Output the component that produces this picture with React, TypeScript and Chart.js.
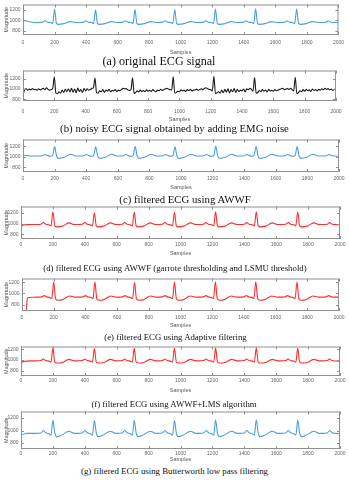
import React, { useEffect, useRef, useMemo } from "react";
import { Chart, registerables } from "chart.js";

Chart.register(...registerables);

// ---------------- data ----------------
const X_TICKS = [0, 200, 400, 600, 800, 1000, 1200, 1400, 1600, 1800, 2000];
const Y_TICKS = [800, 1000, 1200];

// sample positions of the traced points (shared by the smooth signals)
const BEAT_X = [
  0, 5, 25, 35, 60,
  90, 125, 140, 155, 175, 188, 200, 212, 225, 260, 300, 335,
  350, 385, 400, 415, 435, 448, 460, 472, 485, 520, 560, 595,
  600, 635, 650, 665, 685, 698, 710, 722, 735, 770, 810, 845,
  852, 887, 902, 917, 937, 950, 962, 974, 987, 1022, 1062, 1097,
  1110, 1145, 1160, 1175, 1195, 1208, 1220, 1232, 1245, 1280, 1320, 1355,
  1365, 1400, 1415, 1430, 1450, 1463, 1475, 1487, 1500, 1535, 1575, 1610,
  1625, 1660, 1675, 1690, 1710, 1723, 1735, 1747, 1760, 1795, 1835, 1870,
  1895, 1920, 1935, 1950, 1975, 2000,
];

// (a) original ECG
const ORIGINAL = [
  985, 988, 985, 975, 960,
  955, 962, 990, 962, 955, 935, 1205, 940, 920, 935, 972, 955,
  955, 962, 990, 962, 955, 935, 1195, 940, 920, 935, 972, 955,
  955, 962, 990, 962, 955, 935, 1200, 940, 920, 935, 972, 955,
  955, 962, 990, 962, 955, 935, 1200, 940, 920, 935, 972, 955,
  955, 962, 990, 962, 955, 935, 1210, 940, 920, 935, 972, 955,
  955, 962, 990, 962, 955, 935, 1215, 940, 920, 935, 972, 955,
  955, 962, 990, 962, 955, 935, 1210, 940, 920, 935, 972, 955,
  955, 960, 990, 965, 955, 958,
];

// (b) noisy ECG (EMG noise added), sampled every 10 samples
const NOISY_X = [
  0, 10, 20, 30, 40, 50, 60, 70, 80, 90,
  100, 110, 120, 130, 140, 150, 160, 170, 180, 190,
  200, 210, 220, 230, 240, 250, 260, 270, 280, 290,
  300, 310, 320, 330, 340, 350, 360, 370, 380, 390,
  400, 410, 420, 430, 440, 450, 460, 470, 480, 490,
  500, 510, 520, 530, 540, 550, 560, 570, 580, 590,
  600, 610, 620, 630, 640, 650, 660, 670, 680, 690,
  700, 710, 720, 730, 740, 750, 760, 770, 780, 790,
  800, 810, 820, 830, 840, 850, 860, 870, 880, 890,
  900, 910, 920, 930, 940, 950, 960, 970, 980, 990,
  1000, 1010, 1020, 1030, 1040, 1050, 1060, 1070, 1080, 1090,
  1100, 1110, 1120, 1130, 1140, 1150, 1160, 1170, 1180, 1190,
  1200, 1210, 1220, 1230, 1240, 1250, 1260, 1270, 1280, 1290,
  1300, 1310, 1320, 1330, 1340, 1350, 1360, 1370, 1380, 1390,
  1400, 1410, 1420, 1430, 1440, 1450, 1460, 1470, 1480, 1490,
  1500, 1510, 1520, 1530, 1540, 1550, 1560, 1570, 1580, 1590,
  1600, 1610, 1620, 1630, 1640, 1650, 1660, 1670, 1680, 1690,
  1700, 1710, 1720, 1730, 1740, 1750, 1760, 1770, 1780, 1790,
  1800, 1810, 1820, 1830, 1840, 1850, 1860, 1870, 1880, 1890,
  1900, 1910, 1920, 1930, 1940, 1950, 1960, 1970, 1980, 1990,
  2000,
];
const NOISY = [
  860, 985, 1000, 975, 995, 980, 1005, 985, 990, 975,
  1000, 980, 995, 1010, 985, 1020, 990, 975, 985, 1010,
  1235, 920, 905, 945, 915, 975, 930, 990, 950, 1000,
  940, 1010, 935, 995, 925, 1015, 950, 985, 930, 1005,
  960, 1000, 975, 985, 1010, 1020, 1210, 925, 915, 960,
  940, 985, 930, 975, 955, 990, 945, 970, 960, 985,
  950, 975, 965, 990, 1010, 1000, 1005, 980, 970, 985,
  1215, 910, 930, 960, 940, 975, 950, 965, 945, 980,
  955, 970, 950, 985, 960, 945, 975, 965, 990, 970,
  985, 1000, 1010, 995, 985, 975, 1235, 915, 930, 955,
  945, 980, 960, 975, 950, 985, 965, 990, 960, 975,
  980, 995, 970, 990, 1000, 985, 1010, 1020, 1000, 990,
  985, 960, 1245, 905, 925, 945, 915, 975, 925, 990,
  935, 1000, 920, 985, 945, 1005, 930, 990, 950, 975,
  960, 995, 940, 1000, 985, 1010, 990, 955, 1220, 915,
  930, 965, 945, 985, 955, 975, 940, 990, 960, 970,
  955, 985, 965, 975, 990, 1000, 1010, 985, 995, 1005,
  990, 1010, 985, 960, 1225, 905, 925, 960, 945, 985,
  955, 990, 965, 980, 950, 995, 970, 985, 960, 990,
  975, 1000, 985, 1010, 990, 1005, 980, 995, 970, 990,
  985,
];

// (c) filtered ECG using AWWF
const AWWF = [
  1030, 1030, 1025, 1020, 1015,
  1015, 1020, 1045, 1025, 1010, 1030, 1195, 1020, 970, 990, 1050, 1015,
  1015, 1020, 1045, 1025, 1010, 1030, 1190, 1020, 970, 990, 1050, 1015,
  1015, 1020, 1045, 1025, 1010, 1030, 1195, 1020, 970, 990, 1050, 1015,
  1015, 1020, 1045, 1025, 1010, 1030, 1190, 1020, 970, 990, 1050, 1015,
  1015, 1020, 1045, 1025, 1010, 1030, 1200, 1020, 970, 990, 1050, 1015,
  1015, 1020, 1045, 1025, 1010, 1030, 1195, 1020, 970, 990, 1050, 1015,
  1015, 1020, 1045, 1025, 1010, 1030, 1195, 1020, 970, 990, 1050, 1015,
  1015, 1020, 1045, 1025, 1015, 1010,
];

// (d) filtered ECG using AWWF (garrote thresholding and LSMU threshold)
const AWWF_GARROTE = [
  705, 965, 978, 982, 985,
  985, 990, 1020, 990, 980, 960, 1220, 960, 940, 955, 1015, 985,
  985, 990, 1020, 990, 980, 960, 1205, 960, 940, 955, 1015, 985,
  985, 990, 1020, 990, 980, 960, 1215, 960, 940, 955, 1015, 985,
  985, 990, 1020, 990, 980, 960, 1210, 960, 940, 955, 1015, 985,
  985, 990, 1020, 990, 980, 960, 1220, 960, 940, 955, 1015, 985,
  985, 990, 1020, 990, 980, 960, 1220, 960, 940, 955, 1015, 985,
  985, 990, 1020, 990, 980, 960, 1215, 960, 940, 955, 1015, 985,
  985, 990, 1020, 990, 982, 980,
];

// (e) filtered ECG using Adaptive filtering
const ADAPTIVE = [
  698, 698, 698, 925, 932,
  935, 940, 962, 940, 930, 910, 1200, 905, 880, 895, 955, 935,
  935, 940, 962, 940, 930, 910, 1200, 905, 880, 895, 955, 935,
  935, 940, 962, 940, 930, 910, 1195, 905, 880, 895, 955, 935,
  935, 940, 962, 940, 930, 910, 1200, 905, 880, 895, 955, 935,
  935, 940, 962, 940, 930, 910, 1205, 905, 880, 895, 955, 935,
  935, 940, 962, 940, 930, 910, 1205, 905, 880, 895, 955, 935,
  935, 940, 962, 940, 930, 910, 1200, 905, 880, 895, 955, 935,
  935, 940, 962, 940, 935, 935,
];

// (f) filtered ECG using AWWF+LMS algorithm
const AWWF_LMS = [
  710, 960, 975, 980, 985,
  985, 990, 1020, 990, 980, 960, 1220, 960, 945, 955, 1012, 985,
  985, 990, 1020, 990, 980, 960, 1210, 960, 945, 955, 1012, 985,
  985, 990, 1020, 990, 980, 960, 1215, 960, 945, 955, 1012, 985,
  985, 990, 1020, 990, 980, 960, 1215, 960, 945, 955, 1012, 985,
  985, 990, 1020, 990, 980, 960, 1225, 960, 945, 955, 1012, 985,
  985, 990, 1020, 990, 980, 960, 1225, 960, 945, 955, 1012, 985,
  985, 990, 1020, 990, 980, 960, 1220, 960, 945, 955, 1012, 985,
  985, 990, 1020, 990, 982, 980,
];

// (g) filtered ECG using Butterworth low pass filtering
const BUTTERWORTH = [
  920, 930, 950, 955, 955,
  955, 960, 1000, 965, 950, 925, 1165, 960, 900, 935, 990, 955,
  955, 960, 1000, 965, 950, 925, 1160, 960, 900, 935, 990, 955,
  955, 960, 1000, 965, 950, 925, 1165, 960, 900, 935, 990, 955,
  955, 960, 1000, 965, 950, 925, 1160, 960, 900, 935, 990, 955,
  955, 960, 1000, 965, 950, 925, 1170, 960, 900, 935, 990, 955,
  955, 960, 1000, 965, 950, 925, 1170, 960, 900, 935, 990, 955,
  955, 960, 1000, 965, 950, 925, 1165, 960, 900, 935, 990, 955,
  955, 960, 1000, 965, 955, 950,
];

const CAPTIONS = [
  "(a) original ECG signal",
  "(b) noisy ECG signal obtained by adding EMG noise",
  "(c) filtered ECG using AWWF",
  "(d) filtered ECG using AWWF (garrote thresholding and LSMU threshold)",
  "(e) filtered ECG using Adaptive filtering",
  "(f) filtered ECG using AWWF+LMS algorithm",
  "(g) filtered ECG using Butterworth low pass filtering",
];

// ---------------- layout ----------------
const BLUE = "#4a9ee4";
const RED = "#ff2e2e";
const BLACK = "#1c1c1c";

type Layout = {
  top: number; bottom: number; left: number; right: number;
  tickY: number; samplesY: number; capY: number; capX: number; capW: number;
  yMin: number; yMax: number;
};

const LAYOUTS: Layout[] = [
  { top: 2, bottom: 35, left: 23, right: 339, tickY: 43, samplesY: 52, capY: 61, capX: 159, capW: 113, yMin: 720, yMax: 1295 },
  { top: 68, bottom: 101, left: 23, right: 339, tickY: 111.5, samplesY: 119, capY: 128, capX: 174.5, capW: 229, yMin: 765, yMax: 1355 },
  { top: 137, bottom: 172, left: 23, right: 339, tickY: 179, samplesY: 187, capY: 199, capX: 185, capW: 132, yMin: 710, yMax: 1330 },
  { top: 204, bottom: 239, left: 21, right: 340, tickY: 245, samplesY: 253, capY: 268, capX: 175, capW: 264, yMin: 715, yMax: 1320 },
  { top: 276, bottom: 311, left: 22, right: 339, tickY: 318, samplesY: 325, capY: 337, capX: 175.5, capW: 143, yMin: 690, yMax: 1265 },
  { top: 344, bottom: 376, left: 21, right: 340, tickY: 381, samplesY: 390, capY: 404, capX: 174, capW: 166, yMin: 705, yMax: 1250 },
  { top: 409, bottom: 449, left: 21, right: 340, tickY: 453.5, samplesY: 459, capY: 471, capX: 174.5, capW: 187, yMin: 705, yMax: 1305 },
];

const framePlugin = {
  id: "frame",
  afterDatasetsDraw(chart: any) {
    const { ctx, chartArea: a, scales } = chart;
    ctx.save();
    ctx.strokeStyle = "#8f8f8f";
    ctx.lineWidth = 1;
    ctx.strokeRect(a.left + 0.5, a.top + 0.5, a.right - a.left - 1, a.bottom - a.top - 1);
    ctx.beginPath();
    for (const t of scales.x.ticks) {
      const px = Math.round(scales.x.getPixelForValue(t.value)) + 0.5;
      ctx.moveTo(px, a.bottom);
      ctx.lineTo(px, a.bottom - 3);
      ctx.moveTo(px, a.top);
      ctx.lineTo(px, a.top + 3);
    }
    for (const t of scales.y.ticks) {
      const py = Math.round(scales.y.getPixelForValue(t.value)) + 0.5;
      ctx.moveTo(a.left, py);
      ctx.lineTo(a.left + 3, py);
      ctx.moveTo(a.right, py);
      ctx.lineTo(a.right - 3, py);
    }
    ctx.stroke();
    ctx.restore();
  },
};

const plain = (v: any) => String(v);

function Panel({ lay, xs, ys, color }: { lay: Layout; xs: number[]; ys: number[]; color: string }) {
  const ref = useRef<HTMLCanvasElement | null>(null);
  const canvasTop = lay.top - 3;
  const canvasBottom = lay.samplesY + 4;
  const H = canvasBottom - canvasTop;

  useEffect(() => {
    if (!ref.current) return;
    const chart = new Chart(ref.current, {
      type: "line",
      data: {
        datasets: [
          {
            data: xs.map((x, i) => ({ x, y: ys[i] })),
            borderColor: color,
            borderWidth: 1.1,
            pointRadius: 0,
            fill: false,
            cubicInterpolationMode: "monotone",
          },
        ],
      },
      options: {
        responsive: false,
        animation: false,
        devicePixelRatio: 1,
        layout: { padding: { top: 3, right: 349 - lay.right, left: 0, bottom: 0 } },
        plugins: { legend: { display: false }, tooltip: { enabled: false } },
        scales: {
          x: {
            type: "linear",
            min: 0,
            max: 2000,
            afterBuildTicks: (s: any) => {
              s.ticks = X_TICKS.map((v) => ({ value: v }));
            },
            afterFit: (s: any) => {
              s.height = canvasBottom - lay.bottom;
            },
            grid: { display: false, drawTicks: false },
            border: { display: false },
            ticks: {
              font: { size: 5, family: "Liberation Sans" },
              color: "#666",
              padding: lay.tickY - lay.bottom - 3,
              maxRotation: 0,
              autoSkip: false,
              callback: plain,
            },
            title: {
              display: true,
              text: "Samples",
              font: { size: 5.5, family: "Liberation Sans" },
              color: "#555",
              padding: { top: 0, bottom: 4 - 3.3 },
            },
          },
          y: {
            type: "linear",
            min: lay.yMin,
            max: lay.yMax,
            afterBuildTicks: (s: any) => {
              s.ticks = Y_TICKS.map((v) => ({ value: v }));
            },
            afterFit: (s: any) => {
              s.width = lay.left;
            },
            grid: { display: false, drawTicks: false },
            border: { display: false },
            ticks: {
              font: { size: 5, family: "Liberation Sans" },
              color: "#666",
              padding: 2.5,
              callback: plain,
            },
            title: {
              display: true,
              text: "Magnitude",
              font: { size: 5.5, family: "Liberation Sans" },
              color: "#555",
              padding: { top: 3.5, bottom: 0 },
            },
          },
        },
      },
      plugins: [framePlugin],
    } as any);
    return () => chart.destroy();
  }, []);

  return (
    <canvas
      ref={ref}
      width={349}
      height={H}
      style={{ position: "absolute", left: 0, top: canvasTop, width: 349, height: H }}
    />
  );
}

function Caption({ text, lay }: { text: string; lay: Layout }) {
  const size = useMemo(() => {
    const c = document.createElement("canvas").getContext("2d");
    if (!c) return 10;
    c.font = '10px "Liberation Serif"';
    const w = c.measureText(text).width;
    return (10 * lay.capW) / w;
  }, [text]);
  return (
    <div
      style={{
        position: "absolute",
        left: lay.capX,
        top: lay.capY - 6,
        transform: "translateX(-50%)",
        whiteSpace: "nowrap",
        fontFamily: '"Liberation Serif", serif',
        fontSize: size,
        lineHeight: "12px",
        color: "#111",
      }}
    >
      {text}
    </div>
  );
}

export default function App() {
  const series: { xs: number[]; ys: number[]; color: string }[] = [
    { xs: BEAT_X, ys: ORIGINAL, color: BLUE },
    { xs: NOISY_X, ys: NOISY, color: BLACK },
    { xs: BEAT_X, ys: AWWF, color: BLUE },
    { xs: BEAT_X, ys: AWWF_GARROTE, color: RED },
    { xs: BEAT_X, ys: ADAPTIVE, color: RED },
    { xs: BEAT_X, ys: AWWF_LMS, color: RED },
    { xs: BEAT_X, ys: BUTTERWORTH, color: BLUE },
  ];
  return (
    <div style={{ position: "absolute", left: 0, top: 0, width: 349, height: 480, background: "#fff", overflow: "hidden" }}>
      {series.map((s, i) => (
        <Panel key={"p" + i} lay={LAYOUTS[i]} xs={s.xs} ys={s.ys} color={s.color} />
      ))}
      {CAPTIONS.map((t, i) => (
        <Caption key={"c" + i} text={t} lay={LAYOUTS[i]} />
      ))}
    </div>
  );
}
